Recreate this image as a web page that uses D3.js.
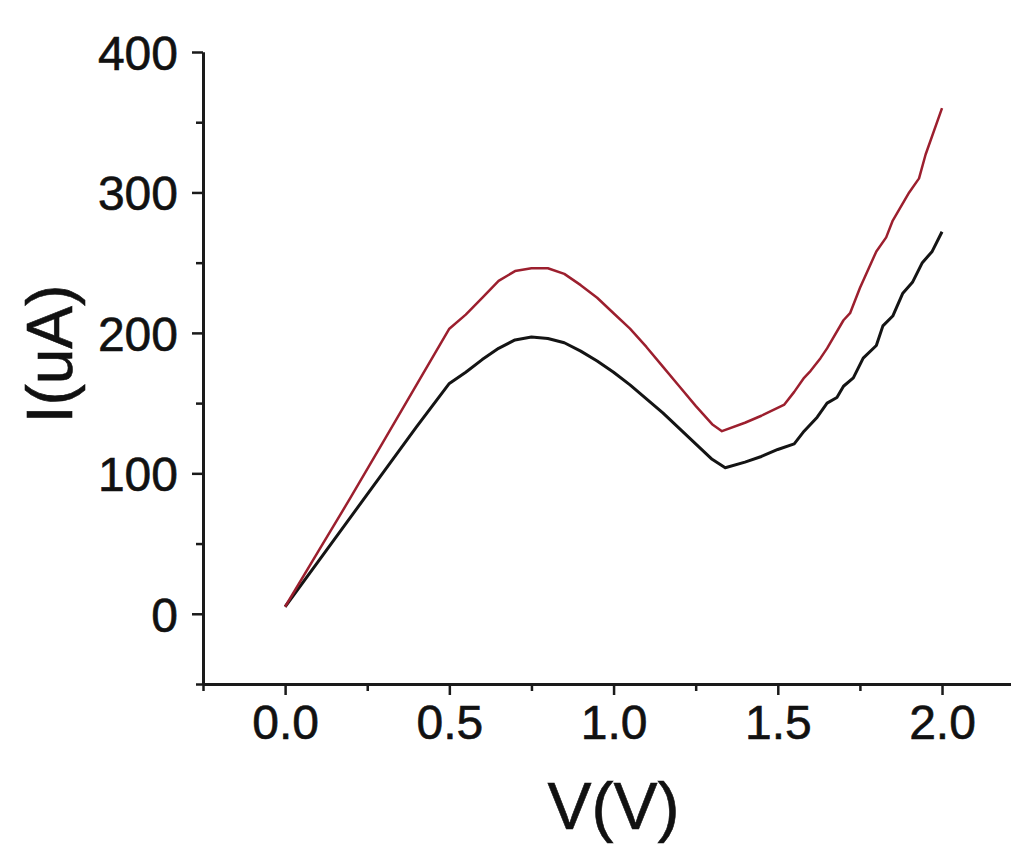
<!DOCTYPE html>
<html>
<head>
<meta charset="utf-8">
<script src="https://cdn.jsdelivr.net/npm/d3@7"></script>
<style>
  html, body { margin: 0; padding: 0; background: #fff; }
  svg { display: block; }
  text { font-family: "Liberation Sans", Arial, sans-serif; fill: #111; }
</style>
</head>
<body>
<svg id="chart" width="1011" height="846"></svg>
<script>
// ---- data ----
const voltageRed = [0.00,0.10,0.20,0.30,0.40,0.50,0.55,0.60,0.65,0.70,0.75,0.80,0.85,0.90,0.95,1.00,1.05,1.10,1.15,1.20,1.25,1.30,1.33,1.40,1.45,1.52,1.55,1.58,1.60,1.63,1.65,1.70,1.72,1.75,1.80,1.83,1.85,1.90,1.93,1.95,2.00];
const currentRed = [5,44,83,123,163,203,213,225,237,244,246,246,242,234,225,214,203,190,176,162,148,135,130,136,141,149,158,168,173,182,189,209,214,232,258,268,280,300,310,327,360];

const voltageBlack = [0.00,0.10,0.20,0.30,0.40,0.50,0.55,0.60,0.65,0.70,0.75,0.80,0.85,0.90,0.95,1.00,1.05,1.10,1.15,1.20,1.25,1.30,1.34,1.40,1.45,1.50,1.55,1.58,1.62,1.65,1.68,1.70,1.73,1.76,1.80,1.82,1.85,1.88,1.91,1.94,1.97,2.00];
const currentBlack = [5,37,69,101,133,164,172,181,189,195,197,196,193,187,180,172,163,153,143,132,121,110,104,108,112,117,121,130,140,150,154,162,168,182,191,205,212,228,236,250,258,272];

const xMajorTicks = [0.0, 0.5, 1.0, 1.5, 2.0];
const xMinorTicks = [-0.25, 0.25, 0.75, 1.25, 1.75];
const yMajorTicks = [0, 100, 200, 300, 400];
const yMinorTicks = [-50, 50, 150, 250, 350];
const xTitle = "V(V)";
const yTitle = "I(uA)";

// ---- layout ----
const svg = d3.select("#chart");
const x = d3.scaleLinear().domain([-0.25, 2.21]).range([203, 1011]);
const y = d3.scaleLinear().domain([-50, 400]).range([684, 52]);

// axes
const xAxisMajor = d3.axisBottom(x).tickValues(xMajorTicks).tickFormat(d3.format(".1f")).tickSize(11).tickSizeOuter(0).tickPadding(10);
const xAxisMinor = d3.axisBottom(x).tickValues(xMinorTicks).tickFormat("").tickSize(7).tickSizeOuter(0);
const yAxisMajor = d3.axisLeft(y).tickValues(yMajorTicks).tickFormat(d3.format("d")).tickSize(11).tickSizeOuter(0).tickPadding(14);
const yAxisMinor = d3.axisLeft(y).tickValues(yMinorTicks).tickFormat("").tickSize(7).tickSizeOuter(0);

function styleAxis(g) {
  g.selectAll("path.domain").attr("stroke", "#1a1a1a").attr("stroke-width", 3);
  g.selectAll(".tick line").attr("stroke", "#1a1a1a").attr("stroke-width", 2.5);
  g.selectAll(".tick text").attr("font-size", 48).attr("fill", "#111")
    .attr("stroke", "#111").attr("stroke-width", 0.6)
    .attr("font-family", "'Liberation Sans', Arial, sans-serif");
}

svg.append("g").attr("transform", `translate(0,${y(-50)})`).call(xAxisMinor).call(styleAxis);
svg.append("g").attr("transform", `translate(0,${y(-50)})`).call(xAxisMajor).call(styleAxis);
svg.append("g").attr("transform", `translate(${x(-0.25)},0)`).call(yAxisMinor).call(styleAxis);
svg.append("g").attr("transform", `translate(${x(-0.25)},0)`).call(yAxisMajor).call(styleAxis)
  .selectAll(".tick text").attr("dy", "0.36em");

// lines
const line = d3.line().x(d => x(d[0])).y(d => y(d[1])).curve(d3.curveLinear);
const blackData = voltageBlack.map((v, i) => [v, currentBlack[i]]);
const redData = voltageRed.map((v, i) => [v, currentRed[i]]);

svg.append("path").datum(blackData).attr("d", line)
  .attr("fill", "none").attr("stroke", "#141414").attr("stroke-width", 3).attr("stroke-linejoin", "round");
svg.append("path").datum(redData).attr("d", line)
  .attr("fill", "none").attr("stroke", "#9c1f2e").attr("stroke-width", 2.5).attr("stroke-linejoin", "round");

// titles
svg.append("text").attr("x", x(1.0)).attr("y", 829).attr("text-anchor", "middle")
  .attr("font-size", 66).attr("stroke", "#111").attr("stroke-width", 0.6).text(xTitle);
svg.append("text").attr("transform", `translate(72,354) rotate(-90)`).attr("text-anchor", "middle")
  .attr("font-size", 64).attr("stroke", "#111").attr("stroke-width", 0.6).text(yTitle);
</script>
</body>
</html>
